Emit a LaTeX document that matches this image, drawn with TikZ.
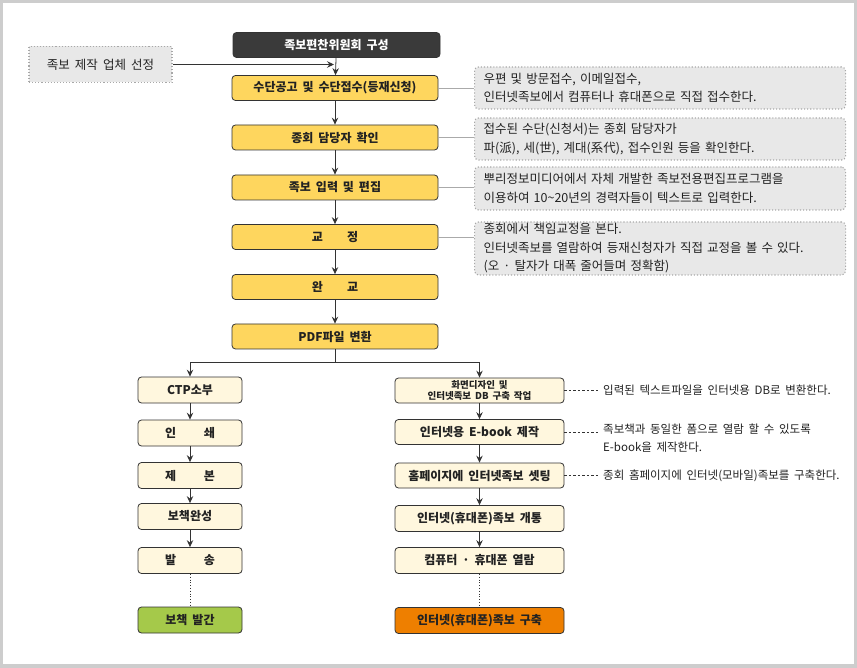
\documentclass[tikz,border=0pt]{standalone}
\usepackage{fontspec}
\setmainfont{Noto Sans CJK KR}[WordSpace=1.8]
\usetikzlibrary{arrows.meta}
\definecolor{framegray}{HTML}{CDCDCD}
\definecolor{yel}{HTML}{FED65E}
\definecolor{cream}{HTML}{FFF7DE}
\definecolor{grn}{HTML}{A5C94A}
\definecolor{org}{HTML}{EE7F00}
\definecolor{darkbox}{HTML}{3A3A3A}
\definecolor{notegray}{HTML}{E8E8E8}
\definecolor{dotgray}{HTML}{A8A8A8}
\definecolor{linec}{HTML}{333333}
\definecolor{conngray}{HTML}{AAAAAA}
\definecolor{txt}{HTML}{222222}
\begin{document}
\begin{tikzpicture}[x=1pt,y=-1pt,
  box/.style={draw=linec, rounded corners=3.5pt, line width=0.8pt, inner sep=0pt,
    minimum height=25pt, text=txt, font=\bfseries\fontsize{12}{14}\selectfont},
  mainbox/.style={box, fill=yel, minimum width=206pt},
  lbox/.style={box, fill=cream, minimum width=104pt},
  rbox/.style={box, fill=cream, minimum width=169pt},
  notebox/.style={draw=dotgray, dotted, line width=1.1pt, fill=notegray, rounded corners=4pt,
    align=left, anchor=west, text width=353pt, inner xsep=9pt, inner ysep=0pt, text=txt,
    font=\fontsize{12.5}{18.5}\selectfont},
  arr/.style={draw=linec, line width=0.8pt, -{Stealth[length=7pt,width=6.5pt,inset=2.5pt]}},
  plain/.style={draw=linec, line width=0.8pt},
  conn/.style={draw=conngray, line width=0.8pt},
  leader/.style={draw=linec, line width=0.7pt, dash pattern=on 2.5pt off 2pt},
  sidetext/.style={anchor=west, inner sep=0pt, text=txt, font=\fontsize{11.5}{18}\selectfont, align=left}
]
\useasboundingbox (0,0) rectangle (857,668);
\fill[framegray] (0,0) rectangle (857,668);
\fill[white] (3,3) rectangle (853.5,664);

% main column
\node[box, fill=darkbox, text=white, minimum width=207pt] (top) at (336.5,45) {족보편찬위원회 구성};
\node[mainbox] (s2) at (335,88) {수단공고 및 수단접수(등재신청)};
\node[mainbox] (s3) at (335,137.5) {종회 담당자 확인};
\node[mainbox] (s4) at (335,187.5) {족보 입력 및 편집};
\node[mainbox] (s5) at (335,237) {교\hspace{2em}정};
\node[mainbox] (s6) at (335,287) {완\hspace{2em}교};
\node[mainbox] (s7) at (335,336.5) {PDF파일 변환};

% selection box
\node[draw=dotgray, dotted, line width=1.1pt, fill=notegray, minimum width=143pt, minimum height=36pt,
  inner sep=0pt, text=txt, font=\fontsize{12.5}{14}\selectfont] (sel) at (100.5,64.5) {족보 제작 업체 선정};
\coordinate (selend) at (334,64.5);

% notes
\node[notebox, minimum height=42pt] (n1) at (474,88) {우편 및 방문접수, 이메일접수,\\인터넷족보에서 컴퓨터나 휴대폰으로 직접 접수한다.};
\node[notebox, minimum height=42pt] (n2) at (474,139) {접수된 수단(신청서)는 종회 담당자가\\파(派), 세(世), 계대(系代), 접수인원 등을 확인한다.};
\node[notebox, minimum height=43pt] (n3) at (474,188.5) {뿌리정보미디어에서 자체 개발한 족보전용편집프로그램을\\이용하여 10\textasciitilde20년의 경력자들이 텍스트로 입력한다.};
\node[notebox, minimum height=53pt] (n4) at (474,248.5) {종회에서 책임교정을 본다.\\인터넷족보를 열람하여 등재신청자가 직접 교정을 볼 수 있다.\\(오 · 탈자가 대폭 줄어들며 정확함)};

% left column
\node[lbox, minimum height=26pt] (c1) at (190,390) {CTP소부};
\node[lbox, minimum height=26pt] (c2) at (190,433) {인\hspace{2.3em}쇄};
\node[lbox, minimum height=26pt] (c3) at (190,475.5) {제\hspace{2.3em}본};
\node[lbox, minimum height=26pt] (c4) at (190,516.5) {보책완성};
\node[lbox, minimum height=26pt] (c5) at (190,560.5) {발\hspace{2.3em}송};
\node[lbox, minimum height=26pt, fill=grn] (c6) at (190,620) {보책 발간};

% right column
\node[rbox, align=center, font=\bfseries\fontsize{9.5}{11}\selectfont] (r1) at (479.5,390.5) {화면디자인 및\\인터넷족보 DB 구축 작업};
\node[rbox] (r2) at (479.5,432) {인터넷용 E-book 제작};
\node[rbox] (r3) at (479.5,475.5) {홈페이지에 인터넷족보 셋팅};
\node[rbox, minimum height=26pt] (r4) at (479.5,518.5) {인터넷(휴대폰)족보 개통};
\node[rbox, minimum height=26pt] (r5) at (479.5,560.5) {컴퓨터 · 휴대폰 열람};
\node[rbox, minimum height=26pt, fill=org] (r6) at (479.5,620.5) {인터넷(휴대폰)족보 구축};

% side texts for right column
\coordinate (l1) at (600,390.5);
\coordinate (l2) at (600,432);
\coordinate (l3) at (600,475.5);
\node[sidetext] (t1) at (603,390.5) {입력된 텍스트파일을 인터넷용 DB로 변환한다.};
\node[sidetext, anchor=north west] (t2) at (603,424) {족보책과 동일한 폼으로 열람 할 수 있도록\\E-book을 제작한다.};
\node[sidetext] (t3) at (603,475.5) {종회 홈페이지에 인터넷(모바일)족보를 구축한다.};

% connectors main column
\draw[arr] (sel.east) -- (selend);
\draw[arr] (top) -- (s2);
\draw[arr] (s2) -- (s3);
\draw[arr] (s3) -- (s4);
\draw[arr] (s4) -- (s5);
\draw[arr] (s5) -- (s6);
\draw[arr] (s6) -- (s7);

% note connectors
\draw[conn] (s2.east) -- (s2.east -| n1.west);
\draw[conn] (s3.east) -- (s3.east -| n2.west);
\draw[conn] (s4.east) -- (s4.east -| n3.west);
\draw[conn] (s5.east) -- (s5.east -| n4.west);

% branch
\coordinate (br) at (335,362);
\draw[plain] (s7.south) -- (br);
\draw[arr] (br) -| (c1.north);
\draw[arr] (br) -| (r1.north);

% left chain
\draw[arr] (c1) -- (c2);
\draw[arr] (c2) -- (c3);
\draw[arr] (c3) -- (c4);
\draw[arr] (c4) -- (c5);
\draw[linec, line width=0.8pt, dotted] (c5) -- (c6);

% right chain
\draw[arr] (r1) -- (r2);
\draw[arr] (r2) -- (r3);
\draw[arr] (r3) -- (r4);
\draw[arr] (r4) -- (r5);
\draw[linec, line width=0.8pt, dotted] (r5) -- (r6);

% leaders
\draw[leader] (r1.east) -- (l1);
\draw[leader] (r2.east) -- (l2);
\draw[leader] (r3.east) -- (l3);
\end{tikzpicture}
\end{document}
